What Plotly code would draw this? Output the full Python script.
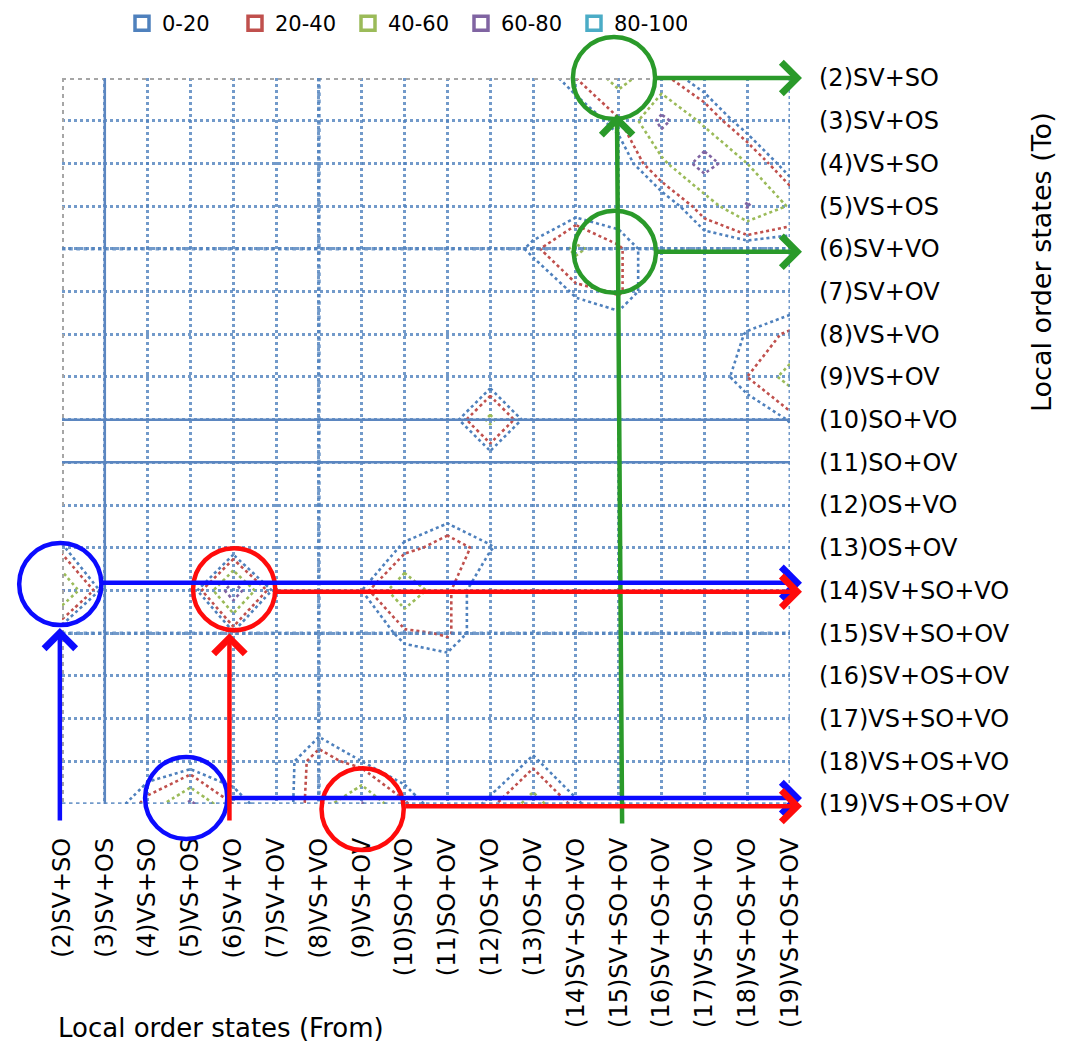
import plotly.graph_objects as go

# Local order states (2)..(19), used on both axes
states = ["(2)SV+SO", "(3)SV+OS", "(4)VS+SO", "(5)VS+OS", "(6)SV+VO", "(7)SV+OV",
          "(8)VS+VO", "(9)VS+OV", "(10)SO+VO", "(11)SO+OV", "(12)OS+VO", "(13)OS+OV",
          "(14)SV+SO+VO", "(15)SV+SO+OV", "(16)SV+OS+OV", "(17)VS+SO+VO",
          "(18)VS+OS+VO", "(19)VS+OS+OV"]

# Transition frequency: rows = "To" state, columns = "From" state (both (2)..(19))
freq = [
    # 2  3  4  5  6  7  8  9 10 11 12 13 14 15 16 17 18 19   <- From
    [0, 0, 0, 0, 0, 0, 0, 0, 0, 0, 0, 0, 20, 48, 25, 0, 0, 0],     # (2)
    [0, 0, 0, 0, 0, 0, 0, 0, 0, 0, 0, 0, 0, 18, 66, 35, 0, 0],     # (3)
    [0, 0, 0, 0, 0, 0, 0, 0, 0, 0, 0, 0, 0, 0, 35, 70, 40, 0],     # (4)
    [0, 0, 0, 0, 0, 0, 0, 0, 0, 0, 0, 0, 0, 0, 0, 28, 62, 38],     # (5)
    [0, 0, 0, 0, 0, 0, 0, 0, 0, 0, 0, 15, 45, 22, 0, 0, 0, 0],     # (6)
    [0, 0, 0, 0, 0, 0, 0, 0, 0, 0, 0, 0, 14, 22, 0, 0, 0, 0],      # (7)
    [0, 0, 0, 0, 0, 0, 0, 0, 0, 0, 0, 0, 0, 0, 0, 0, 13, 22],      # (8)
    [0, 0, 0, 0, 0, 0, 0, 0, 0, 0, 0, 0, 0, 0, 0, 0, 20, 48],      # (9)
    [0, 0, 0, 0, 0, 0, 0, 0, 0, 0, 45, 0, 0, 0, 0, 0, 0, 13],      # (10)
    [0, 0, 0, 0, 0, 0, 0, 0, 0, 0, 0, 0, 0, 0, 0, 0, 0, 0],        # (11)
    [0, 0, 0, 0, 0, 0, 0, 0, 0, 0, 0, 0, 0, 0, 0, 0, 0, 0],        # (12)
    [13, 0, 0, 0, 0, 0, 0, 0, 14, 28, 13, 0, 0, 0, 0, 0, 0, 0],    # (13)
    [62, 5, 0, 0, 75, 5, 0, 12, 58, 22, 0, 0, 0, 0, 0, 0, 0, 0],   # (14)
    [0, 0, 0, 0, 10, 0, 0, 0, 16, 22, 0, 0, 0, 0, 0, 0, 0, 0],     # (15)
    [0, 0, 0, 0, 0, 0, 0, 0, 0, 0, 0, 0, 0, 0, 0, 0, 0, 0],        # (16)
    [0, 0, 0, 0, 0, 0, 0, 0, 0, 0, 0, 0, 0, 0, 0, 0, 0, 0],        # (17)
    [0, 0, 0, 0, 0, 0, 28, 12, 0, 0, 0, 14, 0, 0, 0, 0, 0, 0],     # (18)
    [0, 0, 25, 65, 20, 0, 30, 62, 22, 0, 15, 50, 14, 0, 0, 0, 0, 0],  # (19)
]

# Frequency bands (%) and their line colours
bands = ["0-20", "20-40", "40-60", "60-80", "80-100"]
band_levels = [12, 20, 40, 60, 80]
band_colors = ["#4F81BD", "#C0504D", "#9BBB59", "#8064A2", "#4BACC6"]

N = len(states)
idx = list(range(N))
FONT = "DejaVu Sans"
W_FIG, H_FIG = 1066, 1047
ML, MR, MT, MB = 62, 276, 78, 243
PW, PH = W_FIG - ML - MR, H_FIG - MT - MB
GRID_BLUE = "rgba(79,129,189,0.8)"

fig = go.Figure()

# Contour wireframe: one dotted line set per band boundary
for lvl, col in zip(band_levels, band_colors):
    fig.add_trace(go.Contour(
        z=freq, x=idx, y=idx,
        contours=dict(start=lvl, end=lvl, size=1, coloring="none"),
        line=dict(color=col, width=2.6, dash="dot", smoothing=0),
        showscale=False, showlegend=False, hoverinfo="skip"))

# Legend entries
for name, col in zip(bands, band_colors):
    fig.add_trace(go.Scatter(
        x=[None], y=[None], mode="markers", name=name,
        marker=dict(symbol="square-open", size=14, color=col, line=dict(width=3.5, color=col))))

# Plot-area frame and emphasised wireframe lines
shapes = []
last = N - 1
shapes.append(dict(type="line", xref="x", yref="y", x0=0, x1=last, y0=0, y1=0,
                   line=dict(color="#a6a6a6", width=4, dash="dot")))
shapes.append(dict(type="line", xref="x", yref="y", x0=0, x1=0, y0=0, y1=last,
                   line=dict(color="#a6a6a6", width=4, dash="dot")))
shapes.append(dict(type="line", xref="x", yref="y", x0=last, x1=last, y0=0, y1=last,
                   line=dict(color=GRID_BLUE, width=3, dash="dot")))
shapes.append(dict(type="line", xref="x", yref="y", x0=0, x1=last, y0=last, y1=last,
                   line=dict(color=GRID_BLUE, width=3.5, dash="dot")))
for xi in [1]:
    shapes.append(dict(type="line", xref="x", yref="y", x0=xi, x1=xi, y0=0, y1=last,
                       line=dict(color="#5b86c0", width=2.5)))
for yj in [8, 9]:
    shapes.append(dict(type="line", xref="x", yref="y", x0=0, x1=last, y0=yj, y1=yj,
                       line=dict(color="#5b86c0", width=2.5)))
for yj in [4, 13]:
    shapes.append(dict(type="line", xref="x", yref="y", x0=0, x1=last, y0=yj, y1=yj,
                       line=dict(color=GRID_BLUE, width=3.6, dash="dot")))
shapes.append(dict(type="line", xref="x", yref="y", x0=6, x1=6, y0=0, y1=last,
                   line=dict(color=GRID_BLUE, width=3.6, dash="dot")))


def pxp(i):
    return i / last


def pyp(j):
    return 1 - j / last


# Highlight circles (centre in state-index units)
R = 0.96
circles = [
    (12.89, 0.0, "#2a9a2a"), (12.91, 4.07, "#2a9a2a"),
    (-0.04, 11.85, "#0b0bff"), (4.02, 11.97, "#ff0b0b"),
    (2.9, 16.86, "#0b0bff"), (7.02, 17.12, "#ff0b0b"),
]
for cx, cy, col in circles:
    shapes.append(dict(type="circle", xref="paper", yref="paper",
                       x0=pxp(cx - R), x1=pxp(cx + R), y0=pyp(cy + R), y1=pyp(cy - R),
                       line=dict(color=col, width=4.5)))

# Arrows: (tail i, tail j, head i, head j, colour)
arrows = [
    (13.08, 17.49, 12.96, 0.85, "#2a9a2a"),
    (13.85, 0.0, 17.28, 0.0, "#2a9a2a"),
    (13.87, 4.07, 17.28, 4.07, "#2a9a2a"),
    (-0.05, 17.42, -0.05, 12.88, "#0b0bff"),
    (0.88, 11.82, 17.28, 11.82, "#0b0bff"),
    (3.87, 16.86, 17.28, 16.86, "#0b0bff"),
    (3.91, 17.42, 3.91, 13.0, "#ff0b0b"),
    (4.98, 12.03, 17.28, 12.03, "#ff0b0b"),
    (7.98, 17.05, 17.28, 17.05, "#ff0b0b"),
]
annotations = []
for ti, tj, hi, hj, col in arrows:
    annotations.append(dict(
        x=pxp(hi), y=pyp(hj), xref="paper", yref="paper", text="",
        showarrow=True, axref="pixel", ayref="pixel",
        ax=(ti - hi) * PW / last, ay=(tj - hj) * PH / last,
        arrowhead=4, arrowsize=1.35, arrowwidth=4.5, arrowcolor=col, standoff=0))

# Axis titles
annotations.append(dict(
    x=(1041 - ML) / PW, y=1 - (262 - MT) / PH, xref="paper", yref="paper",
    text="Local order states (To)", showarrow=False, textangle=-90,
    font=dict(family=FONT, size=27, color="black"), xanchor="center", yanchor="middle"))
annotations.append(dict(
    x=(56 - ML) / PW, y=1 - (1028 - MT) / PH, xref="paper", yref="paper",
    text="Local order states (From)", showarrow=False,
    font=dict(family=FONT, size=26, color="black"), xanchor="left", yanchor="middle"))

axis_common = dict(
    tickmode="array", tickvals=idx, ticktext=states,
    showgrid=True, gridcolor=GRID_BLUE, gridwidth=3, griddash="dot",
    zeroline=False, showline=False, ticks="",
    tickfont=dict(family=FONT, size=24, color="black"),
    ticklabelstandoff=28,
)

fig.update_layout(
    width=W_FIG, height=H_FIG, autosize=False,
    margin=dict(l=ML, r=MR, t=MT, b=MB, pad=0, autoexpand=False),
    paper_bgcolor="white", plot_bgcolor="white",
    xaxis=dict(range=[0, last], tickangle=-90, automargin=False, **axis_common),
    yaxis=dict(range=[last, 0], side="right", automargin=False, **axis_common),
    shapes=shapes, annotations=annotations,
    legend=dict(orientation="h", x=(122 - ML) / PW, y=1 + (MT - 3) / PH,
                xanchor="left", yanchor="top",
                font=dict(family=FONT, size=21, color="black"),
                entrywidth=68, entrywidthmode="pixels", itemwidth=30,
                bgcolor="rgba(0,0,0,0)"),
    font=dict(family=FONT),
)

fig.write_html("out.html")
